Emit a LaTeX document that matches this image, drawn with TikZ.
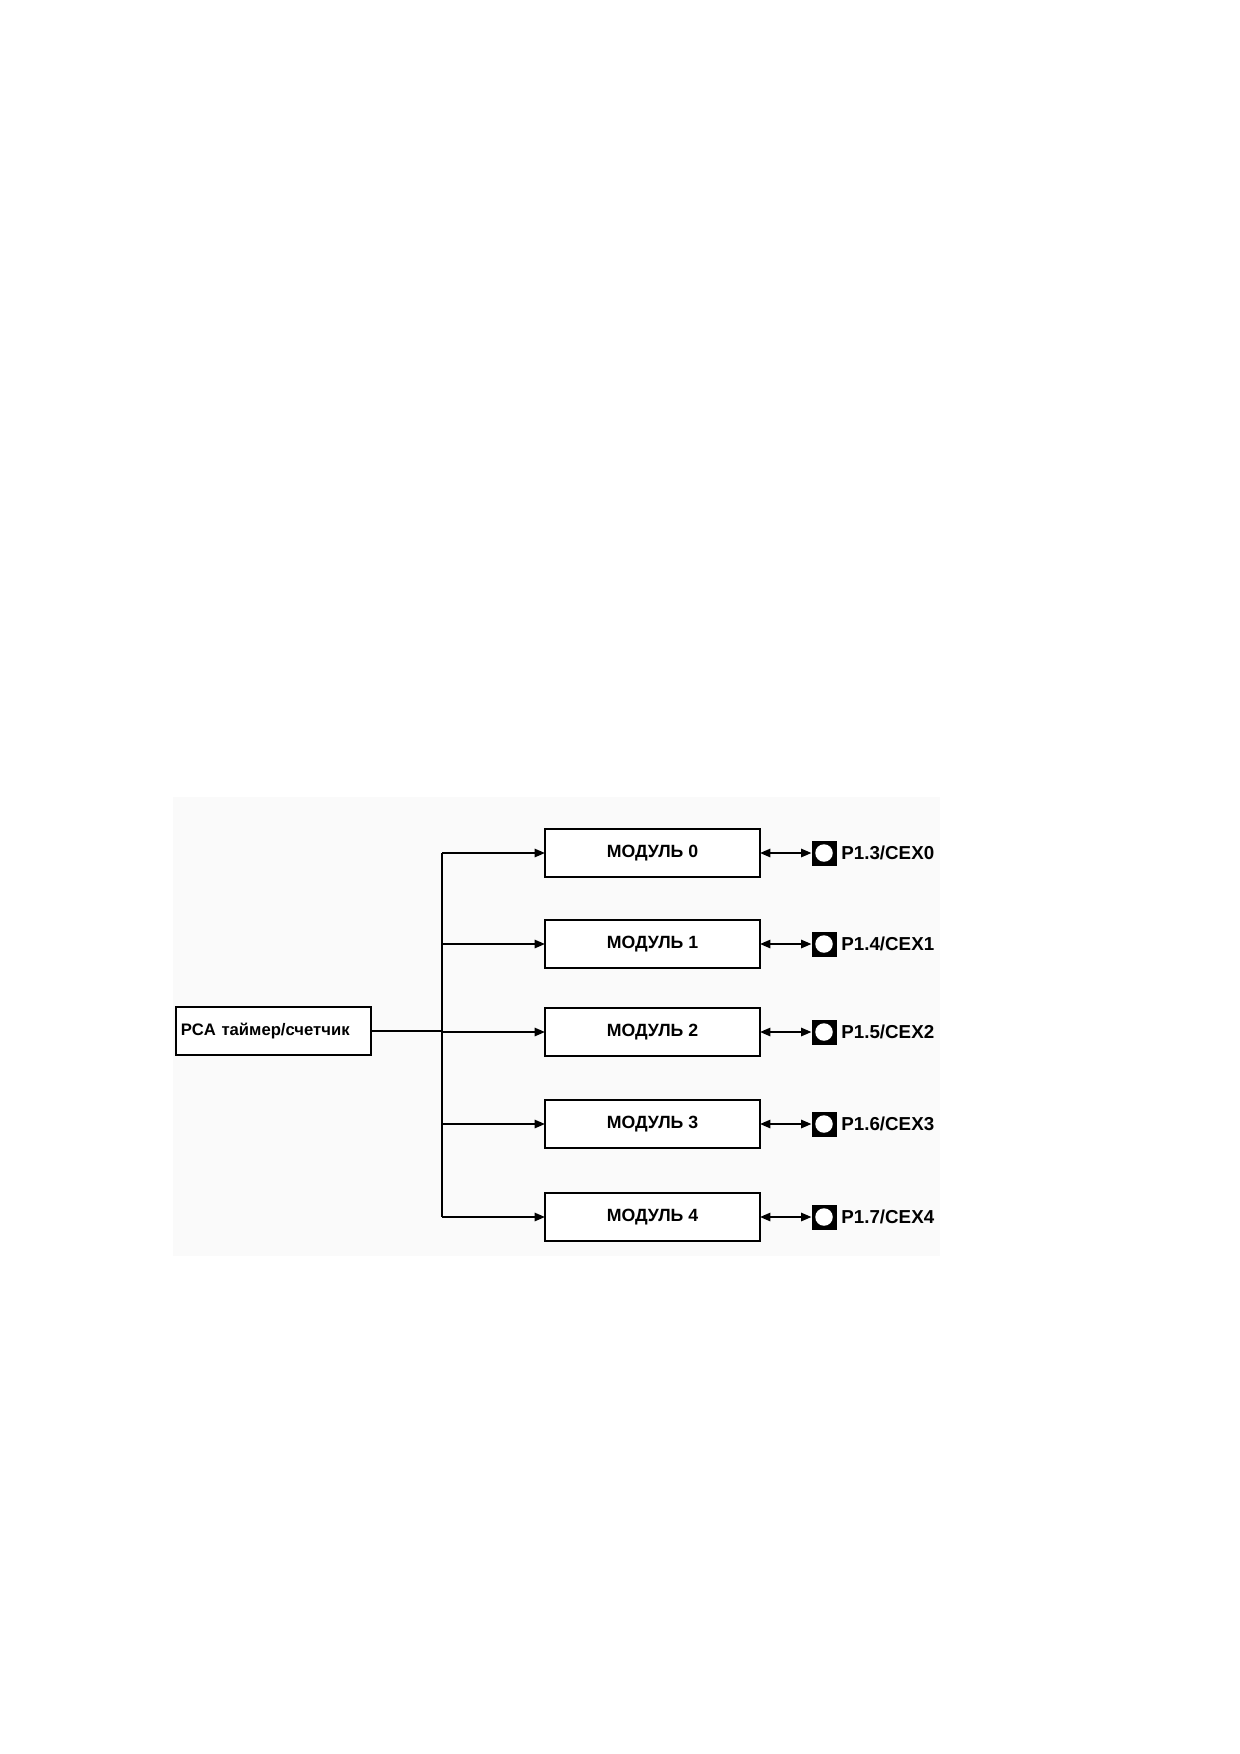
\documentclass[tikz,border=0pt]{standalone}
\usepackage{fontspec}
\setmainfont{Liberation Sans}
\usetikzlibrary{arrows.meta}
\begin{document}
\begin{tikzpicture}[x=0.48pt,y=-0.48pt,
  box/.style={draw,fill=white,line width=0.8pt,minimum width=103.2pt,minimum height=23pt,inner sep=0pt,outer sep=0pt,font=\bfseries\fontsize{8.5}{10}\selectfont},
  pcabox/.style={draw,fill=white,line width=0.8pt,minimum width=93.6pt,minimum height=23pt,inner sep=2pt,outer sep=0pt,font=\bfseries\fontsize{8}{10}\selectfont},
  pin/.style={fill=black,minimum size=12pt,inner sep=0pt,outer sep=0pt},
  pinlbl/.style={anchor=west,inner sep=0pt,font=\bfseries\fontsize{9}{10}\selectfont},
  conn/.style={line width=0.9pt,-{Triangle[length=5pt,width=4pt]}},
  dconn/.style={line width=0.9pt,{Triangle[length=5pt,width=4pt]}-{Triangle[length=5pt,width=4pt]}},
  bus/.style={line width=1.1pt}]
\useasboundingbox (0,0) rectangle (1240,1754);
\fill[black!2] (173,797) rectangle (940,1256);
\node[pcabox,text width=89pt,align=left] (pca) at (273.5,1031) {PCA таймер/счетчик};
\foreach \i/\y/\p in {0/853/P1.3,1/944/P1.4,2/1032/P1.5,3/1124/P1.6,4/1217/P1.7}{
  \node[box] (m\i) at (652.5,\y) {МОДУЛЬ \i};
  \node[pin] (p\i) at (824,\y) {};
  \fill[white] (p\i.center) circle (4.2pt);
  \node[pinlbl] (l\i) at (841,\y) {\p/CEX\i};
  \coordinate (b\i) at (442,\y);
  \draw[conn] (b\i) -- (m\i.west);
  \draw[dconn] (m\i.east) -- (p\i.west);
}
\coordinate (bc) at (442,1031);
\draw[bus] (b0) -- (b4);
\draw[line width=0.7pt] (pca.east) -- (bc);
\end{tikzpicture}
\end{document}
